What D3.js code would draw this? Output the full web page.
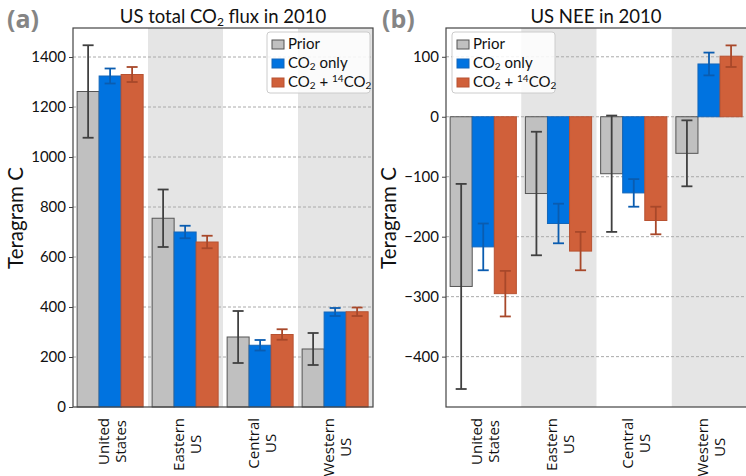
<!DOCTYPE html>
<html>
<head>
<meta charset="utf-8">
<script src="https://d3js.org/d3.v7.min.js"></script>
<style>
body { margin: 0; background: #fff; }
svg { display: block; font-family: 'Open Sans', sans-serif; }
</style>
</head>
<body>
<svg width="746" height="476"></svg>
<script>
var regions = [["United", "States"], ["Eastern", "US"], ["Central", "US"], ["Western", "US"]];
var seriesNames = ["Prior", "CO2 only", "CO2 + 14CO2"];

// US total CO2 flux (Tg C): value and error
var fluxPrior = [1262, 755, 280, 232];
var fluxPriorErr = [185, 115, 104, 64];
var fluxCO2 = [1324, 700, 247, 380];
var fluxCO2Err = [30, 25, 21, 16];
var fluxBoth = [1330, 660, 290, 381];
var fluxBothErr = [30, 25, 21, 17];

// US NEE (Tg C)
var neePrior = [-283, -128, -95, -61];
var neePriorErr = [171, 103, 97, 55];
var neeCO2 = [-217, -178, -127, 88];
var neeCO2Err = [39, 33, 23, 19];
var neeBoth = [-295, -224, -173, 101];
var neeBothErr = [38, 32, 23, 18];

var fluxTicks = [0, 200, 400, 600, 800, 1000, 1200, 1400];
var neeTicks = [-400, -300, -200, -100, 0, 100];

var fills = ["#c0c0c0", "#0073e0", "#d0603a"];
var edges = ["#555555", "#1466b8", "#b85232"];
var errCols = ["#404040", "#0a5cb0", "#a8482a"];

var svg = d3.select("svg");

function drawPanel(opt) {
  var keys = regions.map(function(d) { return d.join(" "); });
  var x = d3.scaleBand().domain(keys).range([opt.x0, opt.x1]);
  var bw = x.bandwidth();
  var xs = d3.scaleBand().domain(seriesNames).range([0.055 * bw, 0.935 * bw]);
  var y = d3.scaleLinear().domain(opt.domain).range([407, 28]);
  var g = svg.append("g");

  // shaded bands
  keys.forEach(function(k, i) {
    if (i % 2 == 1) {
      g.append("rect").attr("x", x(k)).attr("y", 28)
        .attr("width", bw).attr("height", 379).attr("fill", "#e5e5e5");
    }
  });

  // grid
  opt.ticks.forEach(function(t) {
    if (t == opt.domain[0]) return;
    g.append("line").attr("x1", opt.x0).attr("x2", opt.x1)
      .attr("y1", y(t)).attr("y2", y(t))
      .attr("stroke", "#aaaaaa").attr("stroke-width", 1)
      .attr("stroke-dasharray", "3,2");
  });

  // bars
  opt.series.forEach(function(s, j) {
    keys.forEach(function(k, i) {
      var v = s.vals[i];
      var bx = x(k) + xs(seriesNames[j]);
      g.append("rect")
        .attr("x", bx).attr("width", xs.bandwidth())
        .attr("y", y(Math.max(0, v)))
        .attr("height", Math.abs(y(v) - y(0)))
        .attr("fill", fills[j]).attr("stroke", edges[j]).attr("stroke-width", 1);
    });
  });

  // error bars
  opt.series.forEach(function(s, j) {
    keys.forEach(function(k, i) {
      var v = s.vals[i], e = s.errs[i];
      var cx = x(k) + xs(seriesNames[j]) + xs.bandwidth() / 2;
      var col = errCols[j];
      g.append("line").attr("x1", cx).attr("x2", cx)
        .attr("y1", y(v - e)).attr("y2", y(v + e))
        .attr("stroke", col).attr("stroke-width", 1.8);
      [v - e, v + e].forEach(function(c) {
        g.append("line").attr("x1", cx - 5.5).attr("x2", cx + 5.5)
          .attr("y1", y(c)).attr("y2", y(c))
          .attr("stroke", col).attr("stroke-width", 1.8);
      });
    });
  });

  // frame
  g.append("rect").attr("x", opt.x0).attr("y", 28)
    .attr("width", opt.x1 - opt.x0).attr("height", 379)
    .attr("fill", "none").attr("stroke", "#444").attr("stroke-width", 1.2);

  // y axis
  var yAxis = d3.axisLeft(y).tickValues(opt.ticks).tickSize(4).tickPadding(3)
    .tickFormat(function(d) { return d < 0 ? "\u2212" + Math.abs(d) : d; });
  var ya = g.append("g").attr("transform", "translate(" + opt.x0 + ",0)").call(yAxis);
  ya.select(".domain").remove();
  ya.selectAll(".tick line").attr("stroke", "#444");
  ya.selectAll("text").attr("font-size", 15).attr("fill", "#111")
    .attr("font-family", "Lato, sans-serif");

  // x labels, two lines, rotated
  keys.forEach(function(k, i) {
    var cx = x(k) + bw / 2 + 1;
    var lines = regions[i];
    var tmp = lines.map(function(l) {
      return g.append("text").attr("font-size", 15).text(l);
    });
    var len = d3.max(tmp, function(t) { return t.node().getComputedTextLength(); });
    tmp.forEach(function(t) { t.remove(); });
    lines.forEach(function(l, n) {
      g.append("text")
        .attr("transform", "translate(" + (cx + (n - 0.5) * 17 + 6) + "," + (418 + len / 2) + ") rotate(-90)")
        .attr("text-anchor", "middle").attr("font-size", 15).attr("fill", "#111")
        .text(l);
    });
  });

  // y label
  g.append("text")
    .attr("transform", "translate(" + (opt.x0 - 50) + ",218) rotate(-90)")
    .attr("text-anchor", "middle").attr("font-size", 20.5)
    .attr("font-family", "Lato, sans-serif").attr("fill", "#111")
    .text("Teragram C");

  // title
  var title = g.append("text")
    .attr("x", (opt.x0 + Math.min(opt.x1, 746)) / 2 + opt.titleShift).attr("y", 23)
    .attr("text-anchor", "middle").attr("font-size", 18.5)
    .attr("font-family", "Lato, sans-serif").attr("fill", "#111");
  opt.title(title);

  // panel letter
  g.append("text").attr("x", opt.letterX).attr("y", 28)
    .attr("font-size", 25).attr("font-weight", "bold").attr("fill", "#858585")
    .text(opt.letter);

  // legend
  var lg = g.append("g").attr("transform", "translate(" + opt.legX + ",32)");
  lg.append("rect").attr("width", 103).attr("height", 61).attr("rx", 3)
    .attr("fill", "#fff").attr("fill-opacity", 0.85)
    .attr("stroke", "#cccccc");
  seriesNames.forEach(function(s, j) {
    var ry = 12 + j * 19;
    lg.append("rect").attr("x", 5).attr("y", ry - 4).attr("width", 12).attr("height", 9)
      .attr("fill", fills[j]).attr("stroke", edges[j]);
    var t = lg.append("text").attr("x", 21).attr("y", ry + 5)
      .attr("font-size", 15).attr("font-family", "Lato, sans-serif").attr("fill", "#111");
    if (j == 0) t.text("Prior");
    if (j == 1) {
      t.append("tspan").text("CO");
      t.append("tspan").attr("font-size", 10).attr("dy", 2).text("2");
      t.append("tspan").attr("dy", -2).text(" only");
    }
    if (j == 2) {
      t.append("tspan").text("CO");
      t.append("tspan").attr("font-size", 10).attr("dy", 2).text("2");
      t.append("tspan").attr("dy", -2).text(" + ");
      t.append("tspan").attr("font-size", 10).attr("dy", -5).text("14");
      t.append("tspan").attr("dy", 5).text("CO");
      t.append("tspan").attr("font-size", 10).attr("dy", 2).text("2");
    }
  });
}

drawPanel({
  x0: 73, x1: 373, domain: [0, 1516], ticks: fluxTicks,
  series: [{vals: fluxPrior, errs: fluxPriorErr}, {vals: fluxCO2, errs: fluxCO2Err}, {vals: fluxBoth, errs: fluxBothErr}],
  letter: "(a)", letterX: 7, legX: 267, titleShift: 0,
  title: function(t) {
    t.append("tspan").text("US total CO");
    t.append("tspan").attr("font-size", 12).attr("dy", 3).text("2");
    t.append("tspan").attr("dy", -3).text(" flux in 2010");
  }
});

drawPanel({
  x0: 446, x1: 747, domain: [-484, 148], ticks: neeTicks,
  series: [{vals: neePrior, errs: neePriorErr}, {vals: neeCO2, errs: neeCO2Err}, {vals: neeBoth, errs: neeBothErr}],
  letter: "(b)", letterX: 382, legX: 452, titleShift: 0,
  title: function(t) { t.text("US NEE in 2010"); }
});
</script>
</body>
</html>
